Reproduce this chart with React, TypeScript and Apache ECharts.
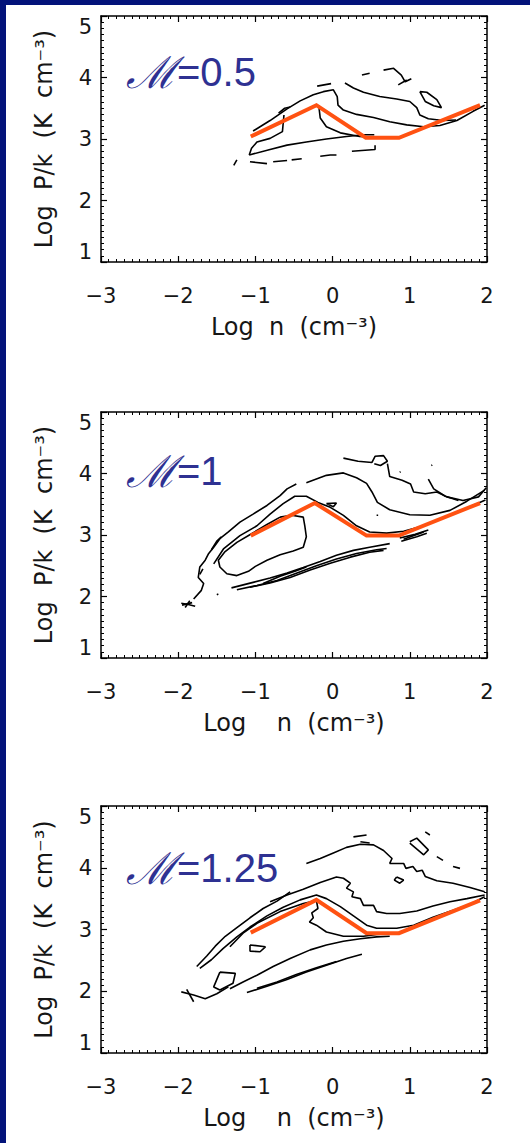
import React, { useEffect, useRef } from "react";
import * as echarts from "echarts";

// ---------- data ----------
const MACH_LABELS = ["0.5", "1", "1.25"];
const X_TITLES = ["Log  n  (cm⁻³)", "Log    n  (cm⁻³)", "Log    n  (cm⁻³)"];
const Y_TITLE = "Log  P/k  (K  cm⁻³)";
const X_MIN = -3, X_MAX = 2, Y_MIN = 1, Y_MAX = 5;

// orange equilibrium curves
const equilibrium1 = [[-1.06, 3.04], [-0.21, 3.55], [0.43, 3.02], [0.86, 3.02], [1.91, 3.55]];
const equilibrium2 = [[-1.06, 2.99], [-0.23, 3.52], [0.44, 2.99], [0.86, 2.99], [1.91, 3.52]];
const equilibrium3 = [[-1.06, 2.95], [-0.21, 3.48], [0.44, 2.94], [0.86, 2.94], [1.91, 3.47]];

// contours, M = 0.5
const contours1 = [
  [[-1.03, 3.13], [-0.81, 3.30], [-0.59, 3.49], [-0.42, 3.62], [-0.25, 3.72], [-0.12, 3.77], [0.01, 3.80], [0.06, 3.69], [0.07, 3.55], [0.14, 3.47], [0.31, 3.40], [0.53, 3.35], [0.74, 3.28], [0.96, 3.23], [1.18, 3.20], [1.39, 3.22], [1.61, 3.30], [1.82, 3.45], [1.97, 3.55]],
  [[0.16, 3.91], [0.27, 3.83], [0.40, 3.76], [0.61, 3.69], [0.83, 3.65], [1.00, 3.61], [1.09, 3.51], [1.13, 3.39], [1.24, 3.33], [1.43, 3.30], [1.60, 3.31]],
  [[-1.08, 2.74], [-0.81, 2.83], [-0.59, 2.90], [-0.34, 2.95], [-0.08, 3.00], [0.18, 3.04], [0.40, 3.07], [0.54, 3.07]],
  [[-0.63, 3.39], [-0.65, 3.12], [-0.81, 3.01], [-0.98, 2.95], [-1.05, 2.85], [-1.08, 2.74]],
  [[-0.18, 3.55], [-0.16, 3.34], [-0.08, 3.20], [0.10, 3.10], [0.35, 3.04], [0.53, 3.03]],
  [[-0.70, 3.42], [-0.62, 3.50], [-0.55, 3.52]],
  [[-1.28, 2.57], [-1.24, 2.66]],
  [[-1.07, 2.63], [-0.85, 2.60]],
  [[-0.77, 2.63], [-0.59, 2.65]],
  [[-0.53, 2.66], [-0.40, 2.68]],
  [[-0.16, 2.72], [-0.03, 2.74], [0.05, 2.74]],
  [[0.25, 2.80], [0.55, 2.83], [0.55, 2.90]],
  [[0.38, 4.04], [0.48, 4.07]],
  [[0.66, 4.12], [0.79, 4.15], [0.89, 4.04], [0.94, 3.93], [1.02, 3.98]],
  [[0.85, 3.88], [0.96, 3.96]],
  [[1.13, 3.77], [1.20, 3.61], [1.31, 3.54], [1.41, 3.51], [1.35, 3.64], [1.22, 3.76], [1.13, 3.77]],
  [[-0.20, 3.86], [-0.02, 3.90]],
];

// contours, M = 1
const contours2 = [
  [[-1.96, 1.89], [-1.87, 1.87], [-1.78, 1.84]],
  [[-1.95, 1.86], [-1.82, 1.90]],
  [[-1.91, 1.82], [-1.85, 1.93]],
  [[-1.80, 1.96], [-1.70, 2.10], [-1.67, 2.21], [-1.74, 2.31], [-1.72, 2.48], [-1.65, 2.59], [-1.61, 2.69], [-1.54, 2.80], [-1.46, 2.94], [-1.35, 3.05], [-1.20, 3.21], [-1.03, 3.34], [-0.85, 3.48], [-0.68, 3.64], [-0.59, 3.75], [-0.47, 3.83]],
  [[-1.57, 2.76], [-1.50, 2.90], [-1.44, 2.97]],
  [[-1.72, 2.36], [-1.68, 2.45]],
  [[-0.34, 3.85], [-0.08, 3.97], [0.14, 4.01], [0.31, 3.93], [0.44, 3.84], [0.51, 3.70], [0.58, 3.53], [0.74, 3.41], [1.00, 3.33], [1.26, 3.32], [1.52, 3.40], [1.74, 3.55], [1.97, 3.73]],
  [[0.14, 4.25], [0.33, 4.20], [0.51, 4.18], [0.55, 4.28], [0.66, 4.29], [0.71, 4.20], [0.62, 4.13], [0.54, 4.16]],
  [[0.71, 4.16], [0.74, 3.95], [0.90, 3.89], [1.01, 3.83], [1.05, 3.70], [1.20, 3.67], [1.35, 3.70], [1.48, 3.62], [1.69, 3.56], [1.89, 3.62], [1.99, 3.77]],
  [[1.24, 3.91], [1.31, 3.75], [1.46, 3.63], [1.63, 3.56]],
  [[-1.54, 2.53], [-1.41, 2.78], [-1.20, 2.99], [-0.98, 3.15], [-0.81, 3.34], [-0.64, 3.51], [-0.49, 3.63], [-0.34, 3.63], [-0.19, 3.53], [-0.03, 3.45], [0.14, 3.32], [0.31, 3.15], [0.48, 3.05], [0.70, 3.03], [0.92, 3.06], [1.18, 3.15], [1.48, 3.30], [1.78, 3.46], [1.98, 3.57]],
  [[-0.68, 3.29], [-0.53, 3.32], [-0.38, 3.29], [-0.36, 3.15], [-0.34, 2.97], [-0.38, 2.80], [-0.51, 2.74], [-0.68, 2.68], [-0.85, 2.59], [-1.00, 2.49], [-1.09, 2.41], [-1.24, 2.34], [-1.37, 2.37], [-1.46, 2.48], [-1.48, 2.59], [-1.40, 2.72], [-1.24, 2.88], [-1.05, 3.02], [-0.85, 3.17], [-0.68, 3.29]],
  [[-1.31, 2.14], [-1.03, 2.23], [-0.81, 2.30], [-0.59, 2.38], [-0.38, 2.47], [-0.16, 2.57], [0.05, 2.67], [0.27, 2.75], [0.48, 2.80], [0.74, 2.86]],
  [[-1.24, 2.11], [-0.98, 2.18], [-0.72, 2.26], [-0.47, 2.38], [-0.21, 2.50], [0.05, 2.61], [0.31, 2.70], [0.57, 2.76], [0.70, 2.78]],
  [[-1.07, 2.15], [-0.81, 2.22], [-0.55, 2.31], [-0.29, 2.43], [-0.03, 2.54], [0.23, 2.64], [0.48, 2.72], [0.66, 2.75]],
  [[-0.90, 2.21], [-0.68, 2.33], [-0.47, 2.42], [-0.34, 2.48]],
  [[0.87, 2.95], [1.07, 3.01], [1.24, 3.08]],
  [[0.89, 2.90], [1.09, 2.97], [1.22, 3.03]],
  [[0.92, 2.93], [1.18, 3.05]],
  [[-0.08, 3.51], [0.05, 3.52], [0.01, 3.46], [-0.08, 3.51]],
  [[-1.50, 2.03], [-1.48, 2.04]],
  [[0.87, 4.02], [0.88, 4.03]],
  [[1.28, 4.13], [1.29, 4.14]],
  [[0.57, 3.32], [0.59, 3.32]],
];

// contours, M = 1.25
const contours3 = [
  [[-1.76, 2.40], [-1.63, 2.57], [-1.52, 2.73], [-1.39, 2.89], [-1.24, 3.03], [-1.07, 3.19], [-0.90, 3.34], [-0.72, 3.46], [-0.55, 3.61]],
  [[-0.34, 4.07], [-0.16, 4.15], [0.01, 4.24], [0.18, 4.33], [0.36, 4.38], [0.53, 4.37], [0.66, 4.28], [0.77, 4.15], [0.74, 4.07], [0.92, 4.07], [0.95, 3.99], [1.04, 4.02], [1.09, 3.94], [1.16, 3.96], [1.20, 3.86], [1.35, 3.79], [1.56, 3.75], [1.78, 3.68], [1.97, 3.61]],
  [[-0.81, 3.45], [-0.59, 3.56], [-0.38, 3.65], [-0.16, 3.76], [0.05, 3.85], [0.14, 3.83], [0.23, 3.75], [0.18, 3.67], [0.27, 3.61], [0.25, 3.53], [0.36, 3.50], [0.40, 3.39], [0.53, 3.39], [0.57, 3.29], [0.70, 3.26], [0.87, 3.26], [1.09, 3.30], [1.30, 3.38], [1.52, 3.45], [1.74, 3.50], [1.97, 3.56]],
  [[-1.72, 2.37], [-1.57, 2.51], [-1.42, 2.69], [-1.24, 2.88], [-1.07, 3.04], [-0.85, 3.22], [-0.64, 3.36], [-0.42, 3.48], [-0.21, 3.56], [-0.08, 3.50], [0.10, 3.37], [0.27, 3.22], [0.44, 3.07], [0.57, 3.02], [0.83, 3.02], [1.05, 3.07], [1.30, 3.20], [1.56, 3.31], [1.78, 3.41], [1.97, 3.53]],
  [[-1.33, 2.72], [-1.16, 2.94], [-0.98, 3.10], [-0.68, 3.29], [-0.38, 3.42], [-0.21, 3.47], [-0.19, 3.34], [-0.27, 3.27], [-0.25, 3.19], [-0.30, 3.12], [-0.21, 3.07], [-0.08, 2.96], [0.14, 2.89], [0.40, 2.89], [0.57, 2.92], [0.83, 2.94]],
  [[-1.33, 2.04], [-1.16, 2.15], [-0.98, 2.26], [-0.77, 2.40], [-0.55, 2.53], [-0.29, 2.67], [-0.08, 2.75], [0.14, 2.81], [0.36, 2.85], [0.57, 2.88], [0.74, 2.89]],
  [[-1.11, 1.98], [-0.85, 2.08], [-0.59, 2.19], [-0.34, 2.31], [-0.08, 2.42], [0.18, 2.53], [0.38, 2.60]],
  [[-0.98, 2.05], [-0.72, 2.15], [-0.47, 2.27], [-0.21, 2.38], [0.05, 2.48]],
  [[-1.46, 2.31], [-1.26, 2.29], [-1.29, 2.13], [-1.46, 2.02], [-1.54, 2.07], [-1.46, 2.31]],
  [[-1.96, 1.99], [-1.80, 1.94], [-1.65, 1.88], [-1.50, 1.96], [-1.35, 2.07]],
  [[-1.89, 2.03], [-1.80, 1.83]],
  [[-1.07, 2.75], [-0.87, 2.72], [-0.94, 2.64], [-1.07, 2.65], [-1.07, 2.75]],
  [[0.83, 3.85], [0.92, 3.80], [0.87, 3.75], [0.80, 3.80], [0.83, 3.85]],
  [[1.00, 4.42], [1.09, 4.48], [1.24, 4.29], [1.18, 4.21], [1.00, 4.40]],
  [[0.27, 4.50], [0.44, 4.53]],
  [[0.36, 4.42], [0.48, 4.40]],
  [[1.20, 4.58], [1.26, 4.53]],
  [[1.35, 4.18], [1.43, 4.12]],
  [[1.56, 4.02], [1.65, 3.99]],
];

const CONTOURS = [contours1, contours2, contours3];
const EQUILIBRIA = [equilibrium1, equilibrium2, equilibrium3];

// ---------- layout / style ----------
const GRID_TOPS = [16, 412, 806];
const GRID_HEIGHTS = [246, 246, 247];
const LABEL_MID_Y = [72, 471, 868];
const NAVY = "#03137a";
const ORANGE = "#ff5212";
const MACH_COLOR = "#2e3192";
const AXIS_FONT = "'DejaVu Sans', 'Liberation Sans', sans-serif";
const LABEL_FONT = "'Liberation Sans', Arial, sans-serif";
const TEXT_COLOR = "#161616";

const fmt = (v: number) => (v < 0 ? "−" + Math.abs(v) : String(v));

function buildOption() {
  const grid: any[] = [];
  const xAxis: any[] = [];
  const yAxis: any[] = [];
  const series: any[] = [];
  const graphic: any[] = [
    { type: "rect", shape: { x: 0, y: 0, width: 6, height: 1143 }, style: { fill: NAVY }, silent: true },
    { type: "rect", shape: { x: 0, y: 0, width: 530, height: 5 }, style: { fill: NAVY }, silent: true },
  ];
  const axisLine = { show: true, onZero: false, lineStyle: { color: "#000", width: 1.5 } };
  const axisTick = { show: true, inside: true, length: 6, lineStyle: { color: "#000", width: 1.2 } };
  const minorTick = { show: true, splitNumber: 10, length: 3, lineStyle: { color: "#000", width: 1 } };

  for (let i = 0; i < 3; i++) {
    grid.push({ left: 101, top: GRID_TOPS[i], width: 386, height: GRID_HEIGHTS[i] });
    const xBase = {
      gridIndex: i, type: "value", min: X_MIN, max: X_MAX, interval: 1,
      axisLine, axisTick, minorTick, splitLine: { show: false }, minorSplitLine: { show: false },
    };
    xAxis.push({
      ...xBase, position: "bottom",
      axisLabel: { show: true, fontSize: 21, color: TEXT_COLOR, fontFamily: AXIS_FONT, margin: 23, formatter: fmt },
      name: X_TITLES[i], nameLocation: "middle", nameGap: 53,
      nameTextStyle: { fontSize: 24, color: TEXT_COLOR, fontFamily: AXIS_FONT },
    });
    xAxis.push({ ...xBase, position: "top", axisLabel: { show: false } });
    const yBase = {
      gridIndex: i, type: "value", min: Y_MIN, max: Y_MAX, interval: 1,
      axisLine, axisTick, minorTick, splitLine: { show: false }, minorSplitLine: { show: false },
    };
    yAxis.push({
      ...yBase, position: "left",
      axisLabel: {
        show: true, fontSize: 21, color: TEXT_COLOR, fontFamily: AXIS_FONT, margin: 9, formatter: fmt,
        verticalAlignMaxLabel: "top", verticalAlignMinLabel: "bottom",
      },
      name: Y_TITLE, nameLocation: "middle", nameGap: 45,
      nameTextStyle: { fontSize: 24, color: TEXT_COLOR, fontFamily: AXIS_FONT },
    });
    yAxis.push({ ...yBase, position: "right", axisLabel: { show: false } });

    CONTOURS[i].forEach((c) => {
      series.push({
        type: "line", xAxisIndex: 2 * i, yAxisIndex: 2 * i, data: c,
        showSymbol: false, symbol: "none", silent: true, z: 2,
        lineStyle: { color: "#000", width: 1.6 },
      });
    });
    series.push({
      type: "line", xAxisIndex: 2 * i, yAxisIndex: 2 * i, data: EQUILIBRIA[i],
      showSymbol: false, symbol: "none", silent: true, z: 3,
      lineStyle: { color: ORANGE, width: 4, join: "miter" },
    });

    graphic.push({
      type: "text", x: 126, y: LABEL_MID_Y[i], silent: true,
      style: {
        text: "{m|ℳ}{n|=" + MACH_LABELS[i] + "}",
        verticalAlign: "middle",
        rich: {
          m: { fontSize: 44, fontFamily: "'DejaVu Serif', serif", fontStyle: "italic", fill: MACH_COLOR, color: MACH_COLOR },
          n: { fontSize: 40, fontFamily: LABEL_FONT, fill: MACH_COLOR, color: MACH_COLOR },
        },
      },
    });
  }

  return { animation: false, backgroundColor: "#fff", grid, xAxis, yAxis, series, graphic };
}

export default function App() {
  const ref = useRef<HTMLDivElement>(null);
  useEffect(() => {
    if (!ref.current) return;
    const chart = echarts.init(ref.current, undefined, { renderer: "svg" });
    chart.setOption(buildOption() as any);
    return () => chart.dispose();
  }, []);
  return (
    <div
      ref={ref}
      style={{ position: "absolute", left: 0, top: 0, width: 530, height: 1143, background: "#fff" }}
    />
  );
}
